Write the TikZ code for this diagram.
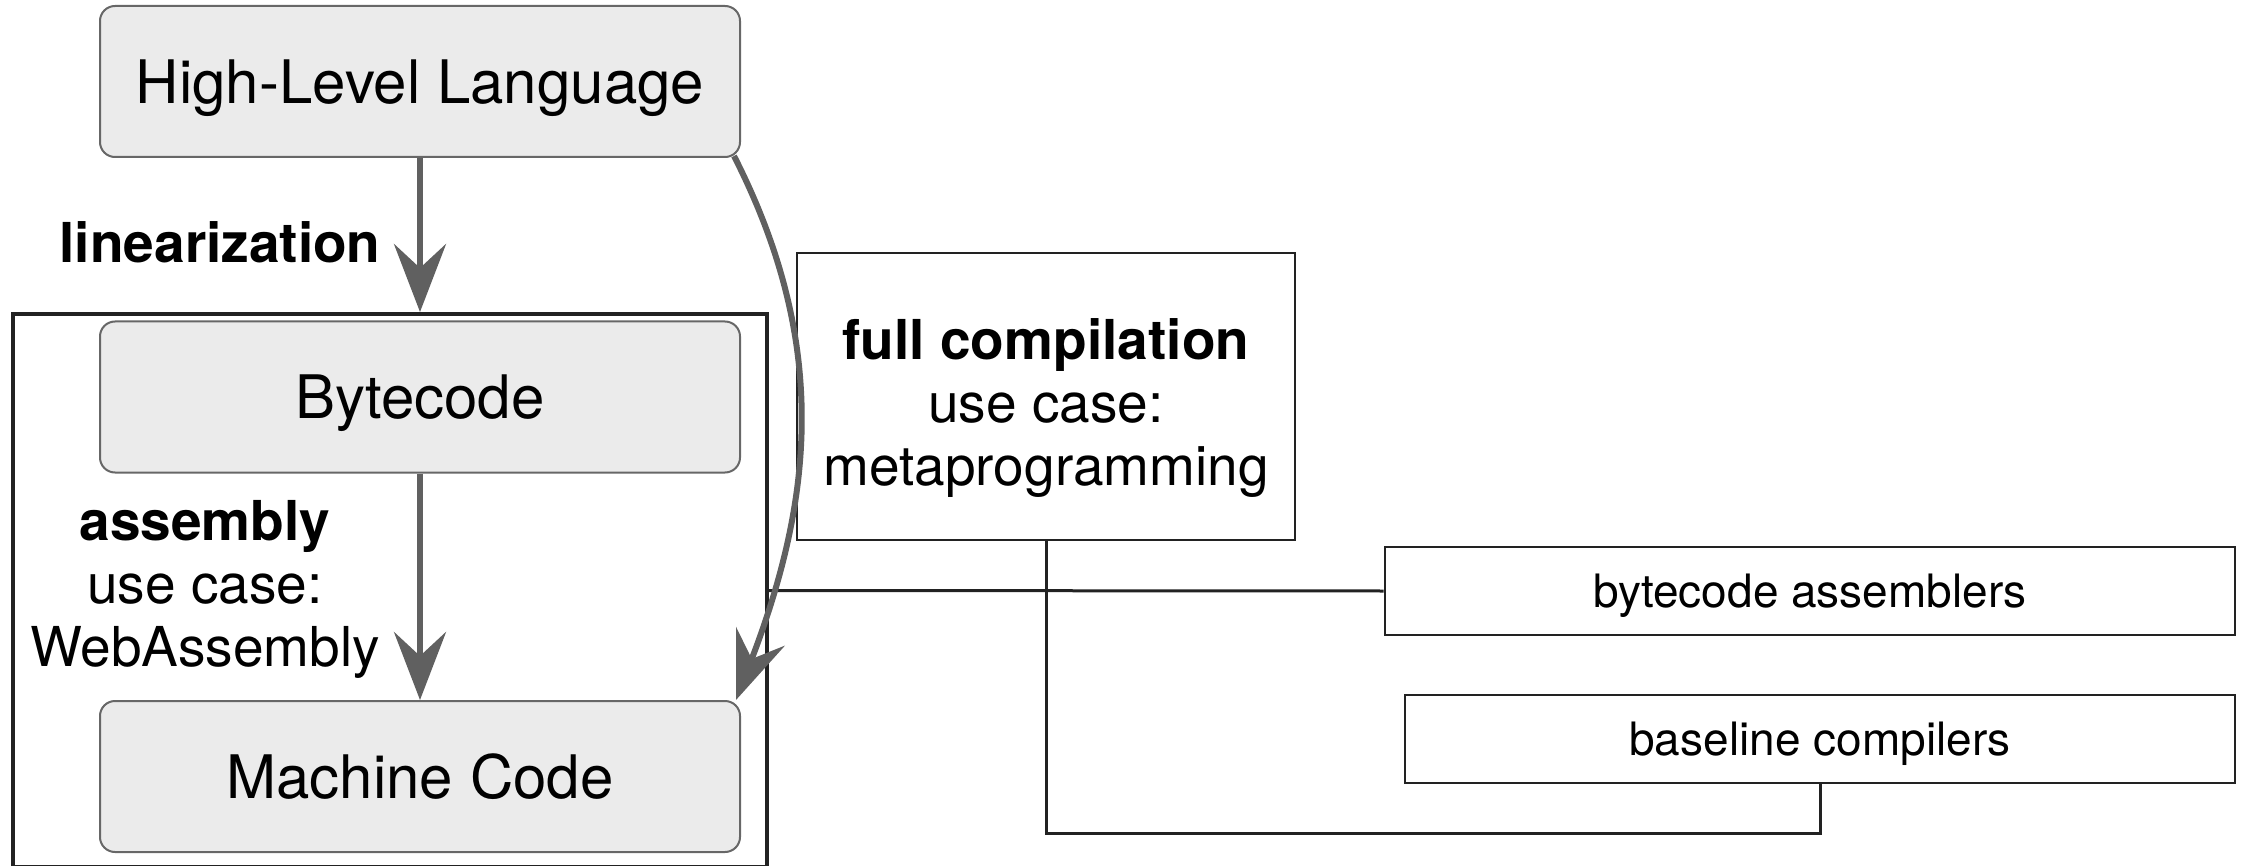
\documentclass[tikz,border=0pt]{standalone}
\usepackage{fontspec}
\setmainfont{TeX Gyre Heros}
\usetikzlibrary{arrows.meta}

\definecolor{boxfill}{HTML}{EBEBEB}
\definecolor{boxline}{HTML}{676767}
\definecolor{flow}{HTML}{606060}
\definecolor{ink}{HTML}{222222}

\tikzset{
  stage/.style={draw=boxline, fill=boxfill, line width=1pt, rounded corners=7.5pt,
    minimum width=320pt, minimum height=75.5pt, inner sep=0pt,
    font=\fontsize{30}{36}\selectfont, text depth=0pt},
  plainbox/.style={draw=ink, line width=1.4pt, inner sep=0pt},
  smalltext/.style={font=\fontsize{23}{28}\selectfont, text depth=0pt},
  flowarrow/.style={draw=flow, line width=3pt,
    -{Stealth[length=34pt,width=26pt,inset=12pt]}},
  link/.style={draw=ink, line width=1.5pt},
  lbl/.style={font=\fontsize{27.5}{31.5}\selectfont, align=center, inner sep=0pt},
}

\begin{document}
\begin{tikzpicture}[x=0.5pt, y=-0.5pt]
  \useasboundingbox (0,0) rectangle (2249,866);

  % processing stages
  \node[stage] (hll) at (420,81.5) {High-Level Language};
  \node[stage] (bc)  at (420,397)  {Bytecode};
  \node[stage] (mc)  at (420,776.5) {Machine Code};

  % group around bytecode and machine code
  \node[draw=ink, line width=2pt, minimum width=377pt, minimum height=276.5pt,
        inner sep=0pt] (frame) at (390,590.5) {};

  % full compilation box
  \node[plainbox, minimum width=249pt, minimum height=143.5pt] (fc) at (1046,396.5) {};
  \node[lbl] (fctext) at (1046,408.5) {\textbf{full compilation}\\use case:\\metaprogramming};

  % tool boxes
  \node[plainbox, smalltext, minimum width=425pt, minimum height=44pt] (asm) at (1810,591)
    {bytecode assemblers};
  \node[plainbox, smalltext, minimum width=415pt, minimum height=44pt] (base) at (1820,739)
    {baseline compilers};

  % connectors to the tool boxes
  \draw[link] (frame.east) -- (asm.west);
  \draw[link] (fc.south) -- ++(0,292) -| (base.south);

  % transformation arrows
  \draw[flowarrow] (hll.south) -- (hll.south |- frame.north);
  \draw[flowarrow] (bc.south) -- (mc.north);
  \draw[flowarrow] ([shift={(-7,-2)}]hll.south east) to[out=-63, in=69]
    ([shift={(-5,0)}]mc.north east);

  % arrow labels
  \node[lbl, anchor=base east] (lin) at (381,263) {\textbf{linearization}};
  \node[lbl] (asmlbl) at (205,589) {\textbf{assembly}\\use case:\\WebAssembly};
\end{tikzpicture}
\end{document}
